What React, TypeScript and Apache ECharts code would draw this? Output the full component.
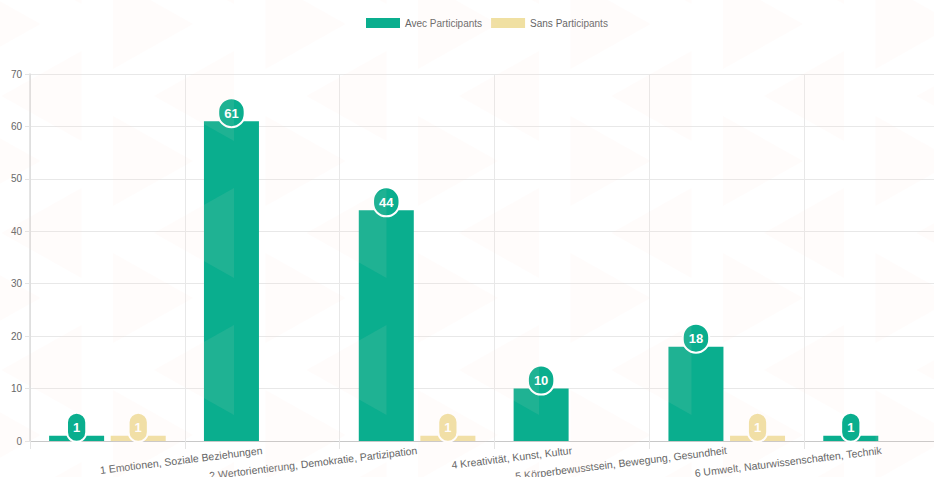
import React, { useEffect, useRef } from "react";
import * as echarts from "echarts";

const categories = [
  "",
  "1 Emotionen, Soziale Beziehungen",
  "2 Wertorientierung, Demokratie, Partizipation",
  "4 Kreativität, Kunst, Kultur",
  "5 Körperbewusstsein, Bewegung, Gesundheit",
  "6 Umwelt, Naturwissenschaften, Technik",
];
const seriesNames = ["Avec Participants", "Sans Participants"];
const avecValues = [1, 61, 44, 10, 18, 1];
const sansValues: (number | null)[] = [1, null, 1, null, 1, null];
const yMin = 0;
const yMax = 70;
const yInterval = 10;

const GREEN = "#0aae8e";
const YELLOW = "#f0e0a2";
const FONT = "'Liberation Sans', Arial, Helvetica, sans-serif";

function patternGraphics() {
  const els: any[] = [];
  const fill = "rgba(250,220,212,0.085)";
  const w = 80;
  const h = 90;
  for (let k = -1; k < 8; k++) {
    for (let j = -1; j < 5; j++) {
      const xr = 113 + 152.5 * k;
      const yr = -21 + 137 * j;
      els.push({
        type: "polygon",
        silent: true,
        z: 100,
        shape: { points: [[xr, yr], [xr + w, yr + h / 2], [xr, yr + h]] },
        style: { fill },
      });
      const xl = 81.5 + 152.5 * k;
      const yl = 51 + 137 * j;
      els.push({
        type: "polygon",
        silent: true,
        z: 100,
        shape: { points: [[xl, yl], [xl - w, yl + h / 2], [xl, yl + h]] },
        style: { fill },
      });
    }
  }
  return els;
}

function badge(color: string) {
  return {
    show: true,
    position: "top",
    distance: -5,
    color: "#fff",
    fontWeight: "bold",
    fontSize: 13,
    fontFamily: FONT,
    lineHeight: 14,
    backgroundColor: color,
    borderColor: "#fff",
    borderWidth: 2,
    borderRadius: 14,
    padding: [7, 5, 6, 5],
  };
}

export default function App() {
  const ref = useRef<HTMLDivElement>(null);
  useEffect(() => {
    if (!ref.current) return;
    const chart = echarts.init(ref.current, undefined, { renderer: "svg" });
    chart.setOption({
      animation: false,
      backgroundColor: "#ffffff",
      textStyle: { fontFamily: FONT },
      legend: {
        top: 13,
        left: 361,
        itemWidth: 34,
        itemHeight: 10,
        itemGap: 9,
        icon: "rect",
        textStyle: { fontSize: 10, color: "#666", fontFamily: FONT },
        data: seriesNames,
      },
      grid: {
        left: 30,
        right: -25,
        top: 74,
        bottom: 36,
        containLabel: false,
        outerBoundsMode: "none",
      },
      xAxis: {
        type: "category",
        data: categories,
        axisLine: { show: true, lineStyle: { color: "#c8c8c8", width: 1 } },
        axisTick: { show: true, alignWithLabel: false, length: 8, lineStyle: { color: "#e4e4e4" } },
        splitLine: { show: true, lineStyle: { color: "#e8e8e8", width: 1 } },
        axisLabel: {
          interval: 0,
          rotate: 7,
          margin: 9,
          fontSize: 10.5,
          color: "#666",
          fontFamily: FONT,
        },
      },
      yAxis: {
        type: "value",
        min: yMin,
        max: yMax,
        interval: yInterval,
        axisLine: { show: true, lineStyle: { color: "#dcdcdc", width: 1.5 } },
        axisTick: { show: true, length: 5, lineStyle: { color: "#e4e4e4" } },
        splitLine: { show: true, lineStyle: { color: "#e8e8e8", width: 1 } },
        axisLabel: { fontSize: 10, color: "#666", margin: 8, fontFamily: FONT },
      },
      series: [
        {
          name: seriesNames[0],
          type: "bar",
          data: avecValues,
          barWidth: 55,
          barGap: "12%",
          itemStyle: { color: GREEN },
          label: badge(GREEN),
        },
        {
          name: seriesNames[1],
          type: "bar",
          data: sansValues,
          barWidth: 55,
          barGap: "12%",
          itemStyle: { color: YELLOW },
          label: badge(YELLOW),
        },
      ],
      graphic: patternGraphics(),
    });
    return () => chart.dispose();
  }, []);
  return (
    <div
      ref={ref}
      style={{ position: "absolute", left: 0, top: 0, width: 934, height: 477 }}
    />
  );
}
